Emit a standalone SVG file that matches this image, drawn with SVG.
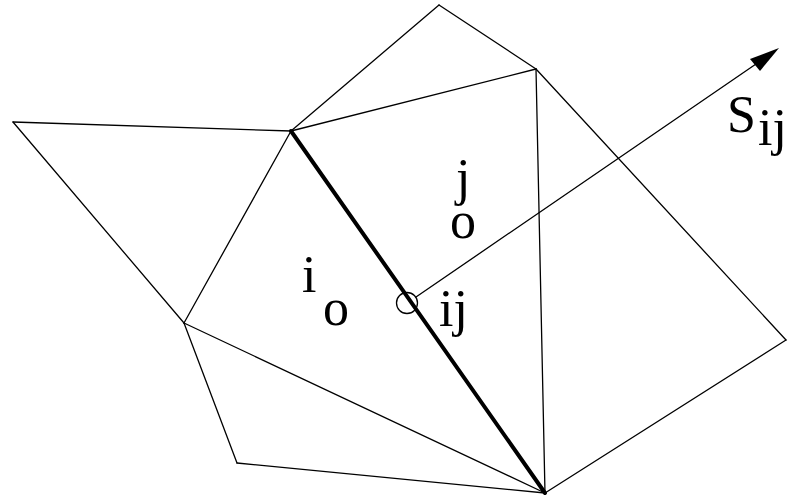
<svg xmlns="http://www.w3.org/2000/svg" width="787" height="500" viewBox="0 0 787 500">
<style>
.e{stroke:#000;stroke-width:1.3;fill:none;stroke-linecap:round;stroke-linejoin:round}
.thick{stroke:#000;stroke-width:4;fill:none;stroke-linecap:round}
.t{font-family:"Liberation Serif","Times New Roman",serif;fill:#000;font-size:52px}
</style>
<rect width="787" height="500" fill="#fff"/>
<g id="mesh">
<line class="e" x1="13" y1="122" x2="291" y2="131"/>
<line class="e" x1="13" y1="122" x2="184" y2="323"/>
<line class="e" x1="291" y1="131" x2="184" y2="323"/>
<line class="e" x1="291" y1="131" x2="439" y2="5"/>
<line class="e" x1="291" y1="131" x2="536" y2="69"/>
<line class="e" x1="439" y1="5" x2="536" y2="69"/>
<line class="e" x1="536" y1="69" x2="545" y2="493"/>
<line class="e" x1="536" y1="69" x2="786" y2="340"/>
<line class="e" x1="786" y1="340" x2="545" y2="493"/>
<line class="e" x1="184" y1="323" x2="545" y2="493"/>
<line class="e" x1="184" y1="323" x2="237" y2="463"/>
<line class="e" x1="237" y1="463" x2="545" y2="493"/>
</g>
<g id="edge-ij">
<line class="thick" x1="291" y1="131" x2="545" y2="493"/>
</g>
<g id="connectors">
<line class="e" x1="416" y1="297" x2="756" y2="64"/>
<polygon points="779,48 750,59 760,71" fill="#000"/>
</g>
<g id="node-ij">
<circle cx="407" cy="303" r="10.5" fill="none" stroke="#000" stroke-width="1.3"/>
<text class="t" x="439" y="326">ij</text>
</g>
<g id="node-i">
<text class="t" x="302" y="292">i</text>
<text class="t" x="336" y="325" text-anchor="middle">o</text>
</g>
<g id="node-j">
<text class="t" x="456" y="195">j</text>
<text class="t" x="463" y="238" text-anchor="middle">o</text>
</g>
<g id="label-S">
<text class="t" x="727" y="132" font-size="56px">S</text>
<text class="t" x="758" y="145" font-size="46px">ij</text>
</g>
</svg>
